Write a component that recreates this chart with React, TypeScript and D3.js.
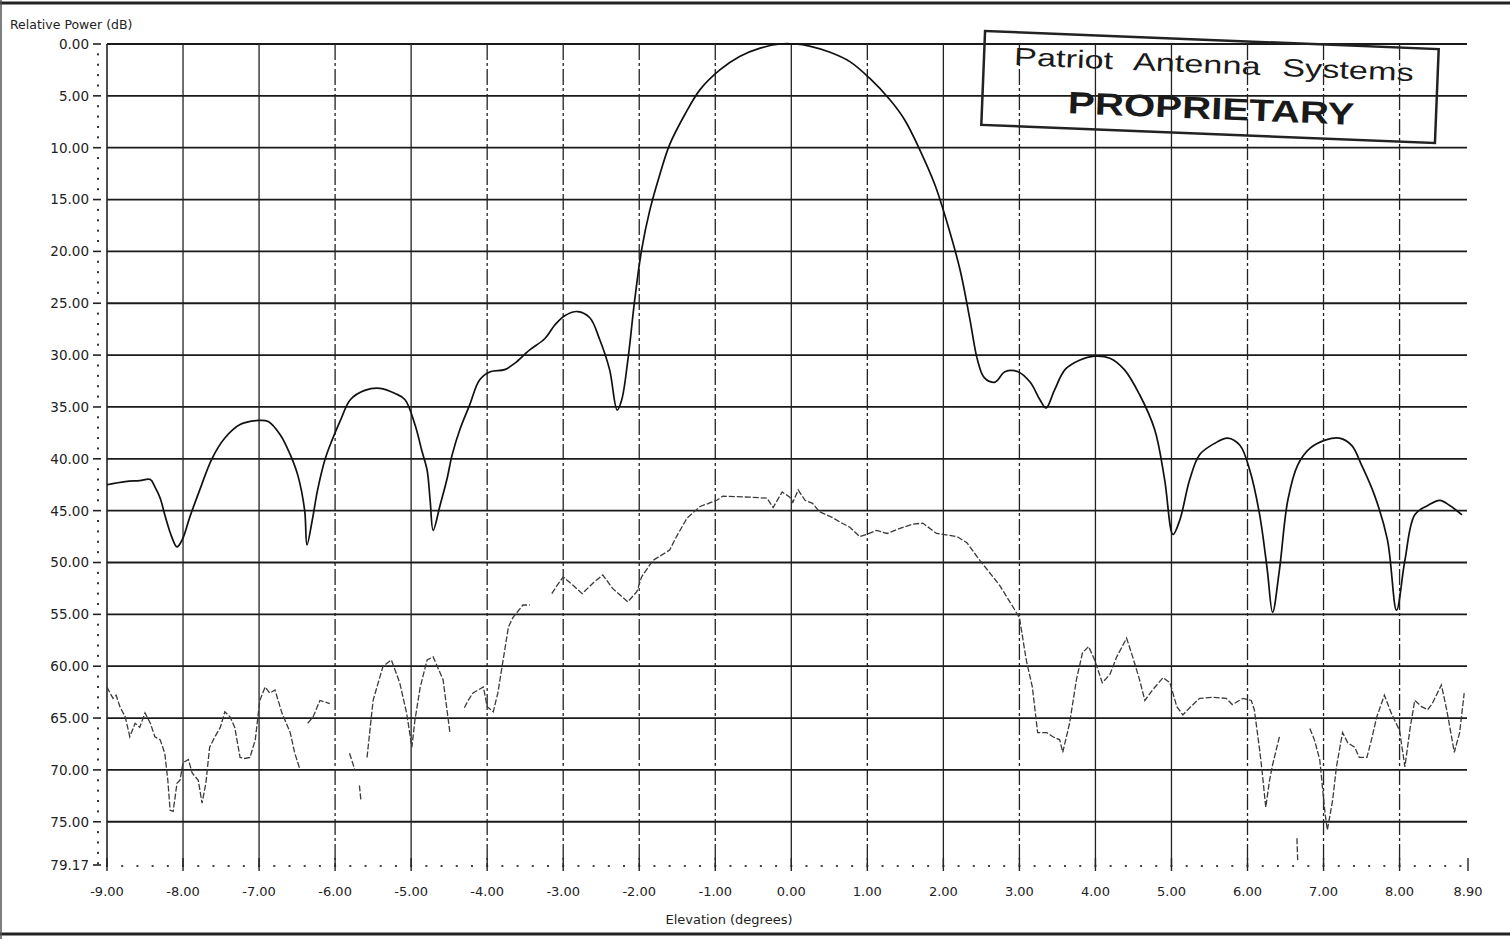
import React from "react";
import * as d3 from "d3";

// ---- Data ----
const MAIN_ELEV = [-9.0,-8.76,-8.57,-8.43,-8.37,-8.3,-8.24,-8.15,-8.08,-8.01,-7.91,-7.78,-7.62,-7.45,-7.25,-7.01,-6.88,-6.72,-6.59,-6.49,-6.4,-6.37,-6.3,-6.23,-6.13,-6.04,-5.93,-5.8,-5.61,-5.41,-5.21,-5.08,-4.95,-4.86,-4.79,-4.75,-4.71,-4.62,-4.53,-4.46,-4.36,-4.23,-4.1,-3.96,-3.77,-3.64,-3.44,-3.24,-3.11,-2.98,-2.81,-2.65,-2.52,-2.39,-2.29,-2.23,-2.15,-2.06,-1.97,-1.86,-1.73,-1.6,-1.4,-1.2,-0.94,-0.68,-0.41,-0.15,0.05,0.24,0.51,0.77,1.03,1.3,1.49,1.69,1.89,2.06,2.22,2.35,2.45,2.54,2.68,2.81,2.98,3.14,3.27,3.35,3.46,3.6,3.79,3.99,4.19,4.38,4.58,4.78,4.91,5.02,5.11,5.24,5.37,5.57,5.74,5.9,6.03,6.16,6.26,6.33,6.42,6.53,6.66,6.82,7.02,7.21,7.37,7.5,7.67,7.84,7.96,8.07,8.2,8.37,8.53,8.66,8.82];
const MAIN_DB = [42.5,42.2,42.1,42.0,42.7,43.8,45.4,47.5,48.5,47.8,45.6,43.0,40.0,38.0,36.7,36.3,36.4,37.7,39.6,41.6,45.0,48.3,45.9,43.0,40.0,38.2,36.3,34.3,33.4,33.2,33.7,34.3,36.7,39.2,41.1,44.0,46.9,44.5,42.0,39.6,37.2,34.8,32.4,31.6,31.4,30.8,29.5,28.4,27.1,26.2,25.8,26.4,28.5,31.4,35.3,34.3,30.5,24.7,19.9,16.0,12.6,9.7,6.8,4.4,2.5,1.2,0.4,0.0,0.0,0.2,0.8,1.7,3.3,5.4,7.3,10.2,13.6,17.5,21.8,26.6,30.5,32.2,32.6,31.6,31.6,32.6,34.3,35.1,33.4,31.4,30.5,30.1,30.3,31.4,33.8,37.2,42.0,47.3,45.9,42.0,39.6,38.5,38.0,38.7,41.1,45.4,50.7,54.8,50.7,44.0,40.6,39.0,38.2,38.0,38.7,40.6,43.5,47.8,54.6,49.8,45.4,44.5,44.0,44.5,45.4];

// null marks a break in the trace
const LOWER_ELEV = [-9.0,-8.96,-8.92,-8.88,-8.83,-8.76,-8.7,-8.63,-8.57,-8.5,-8.43,-8.37,-8.3,-8.24,-8.2,-8.17,-8.13,-8.08,-8.04,-8.0,-7.93,-7.88,-7.8,-7.75,-7.7,-7.65,-7.58,-7.51,-7.45,-7.38,-7.32,-7.25,-7.19,-7.12,-7.05,-6.99,-6.92,-6.86,-6.79,-6.7,-6.59,-6.53,-6.46,-6.42,-6.36,-6.29,-6.2,-6.07,-6.03,-5.98,-5.95,-5.81,-5.74,-5.72,-5.68,-5.66,-5.62,-5.58,-5.5,-5.37,-5.26,-5.15,-5.06,-4.99,-4.95,-4.88,-4.79,-4.71,-4.58,-4.49,-4.45,-4.4,-4.38,-4.3,-4.25,-4.19,-4.05,-4.0,-3.92,-3.86,-3.79,-3.72,-3.66,-3.53,-3.44,-3.4,-3.3,-3.25,-3.15,-3.08,-3.0,-2.87,-2.75,-2.61,-2.48,-2.35,-2.15,-2.03,-1.97,-1.82,-1.6,-1.51,-1.37,-1.2,-0.98,-0.9,-0.55,-0.32,-0.24,-0.12,-0.02,0.02,0.09,0.18,0.28,0.37,0.55,0.64,0.77,0.9,0.99,1.12,1.26,1.43,1.6,1.73,1.91,2.18,2.31,2.48,2.74,3.0,3.09,3.17,3.24,3.36,3.44,3.53,3.57,3.66,3.75,3.83,3.91,3.99,4.09,4.19,4.28,4.41,4.49,4.58,4.65,4.75,4.89,4.98,5.07,5.15,5.24,5.37,5.54,5.72,5.8,5.94,6.05,6.09,6.16,6.19,6.24,6.29,6.33,6.42,6.5,6.65,6.66,6.7,6.82,6.88,6.95,7.02,7.05,7.12,7.17,7.25,7.32,7.41,7.47,7.57,7.63,7.7,7.8,7.89,8.0,8.07,8.14,8.2,8.29,8.37,8.43,8.55,8.62,8.72,8.79,8.85];
const LOWER_DB = [62.0,62.6,63.1,62.8,63.9,64.9,66.8,65.5,65.9,64.5,65.5,66.8,67.1,68.4,71.0,73.9,74.0,71.3,71.0,69.3,69.0,70.3,71.0,73.2,71.3,67.8,66.8,65.9,64.4,64.9,65.9,68.8,68.9,68.8,67.1,63.3,62.0,62.6,62.3,64.5,66.4,68.4,70.0,null,65.5,64.9,63.3,63.6,null,65.9,null,68.4,70.0,null,71.5,73.0,null,68.8,63.3,60.0,59.4,61.6,64.5,67.8,65.2,62.0,59.4,59.1,61.3,66.4,null,71.9,null,64.0,63.3,62.6,62.0,63.9,64.4,62.6,59.4,56.2,55.3,54.1,54.1,null,54.1,null,53.0,52.2,51.4,52.2,53.0,52.0,51.2,52.5,53.8,52.8,51.4,49.8,48.8,47.5,45.7,44.6,44.0,43.6,43.7,43.8,44.7,43.2,43.7,44.2,43.0,44.0,44.3,45.1,45.7,46.1,46.6,47.5,47.3,46.9,47.2,46.7,46.3,46.2,47.2,47.5,48.1,49.8,52.2,55.3,59.4,62.0,66.4,66.4,66.8,67.1,68.3,65.5,61.3,58.7,58.1,59.4,61.6,60.8,59.1,57.3,59.1,61.3,63.3,62.3,61.1,61.6,63.9,64.7,64.0,63.1,63.0,63.1,63.7,63.1,63.3,64.2,68.1,70.0,73.6,71.0,69.5,66.8,null,76.6,78.7,null,66.0,67.1,69.0,74.2,75.8,72.9,69.7,66.4,67.4,67.8,68.8,68.8,67.1,64.9,62.8,64.5,66.2,69.7,65.9,63.3,63.9,64.2,63.6,61.8,64.2,68.3,66.4,62.6];

const Y_TICKS = [0, 5, 10, 15, 20, 25, 30, 35, 40, 45, 50, 55, 60, 65, 70, 75, 79.17];
const X_TICKS = [-9, -8, -7, -6, -5, -4, -3, -2, -1, 0, 1, 2, 3, 4, 5, 6, 7, 8, 8.9];
const V_GRID = [-8, -7, -6, -5, -4, -3, -2, -1, 0, 1, 2, 3, 4, 5, 6, 7, 8];
const V_GRID_DASHED = [-6, -4, -3, -2, -1, 1, 3, 6, 7, 8];
const H_GRID = [0, 5, 10, 15, 20, 25, 30, 35, 40, 45, 50, 55, 60, 65, 70, 75];

const W = 1510;
const H = 939;

const fmt = (v: number) => v.toFixed(2);

export default function App() {
  const x = d3.scaleLinear().domain([-9, 8.9]).range([107, 1468]);
  const y = d3.scaleLinear().domain([0, 79.17]).range([44, 865]);

  const mainPts = MAIN_ELEV.map((e, i) => [e, MAIN_DB[i]] as [number, number]);
  const lowPts = LOWER_ELEV.map((e, i) => [e, LOWER_DB[i]] as [number, number | null]);

  const mainLine = d3
    .line<[number, number]>()
    .x((d) => x(d[0]))
    .y((d) => y(d[1]))
    .curve(d3.curveCatmullRom.alpha(0.5));

  const lowLine = d3
    .line<[number, number | null]>()
    .defined((d) => d[1] !== null)
    .x((d) => x(d[0]))
    .y((d) => y(d[1] as number));

  const minorY = d3.range(0, 80, 1).filter((v) => v % 5 !== 0);
  const minorX = d3.range(-9, 8.95, 0.2).map((v) => Math.round(v * 100) / 100);

  const font = "'DejaVu Sans', 'Liberation Sans', Arial, sans-serif";
  const stampFont = "'Liberation Sans', Arial, sans-serif";

  return (
    <svg
      width={W}
      height={H}
      style={{ position: "absolute", left: 0, top: 0, background: "#fff" }}
      fontFamily={font}
    >
      <rect x={0} y={0} width={W} height={H} fill="#fff" />
      {/* page frame */}
      <line x1={0} x2={W} y1={3} y2={3} stroke="#222" strokeWidth={3} />
      <line x1={0} x2={W} y1={934} y2={934} stroke="#222" strokeWidth={3} />
      <line x1={1} x2={1} y1={0} y2={H} stroke="#555" strokeWidth={1.5} />

      {/* horizontal grid */}
      {H_GRID.map((v) => (
        <line key={"h" + v} x1={107} x2={1467} y1={y(v)} y2={y(v)} stroke="#1a1a1a" strokeWidth={1.8} />
      ))}
      {/* vertical grid */}
      {V_GRID.map((v) => (
        <line
          key={"v" + v}
          x1={x(v)}
          x2={x(v)}
          y1={y(0)}
          y2={y(79.17)}
          stroke="#222"
          strokeWidth={1.3}
          strokeDasharray={V_GRID_DASHED.includes(v) ? "16,3,3,3" : undefined}
        />
      ))}

      {/* left axis */}
      <line x1={107} x2={107} y1={y(0)} y2={y(79.17)} stroke="#222" strokeWidth={1.6} />
      {Y_TICKS.map((v) => (
        <g key={"yt" + v}>
          <line x1={93} x2={101} y1={y(v)} y2={y(v)} stroke="#222" strokeWidth={1.6} />
          <text x={89} y={y(v)} dy="0.36em" textAnchor="end" fontSize={13.5} fill="#222">
            {fmt(v)}
          </text>
        </g>
      ))}
      {minorY.map((v) => (
        <rect key={"my" + v} x={97} y={y(v) - 1} width={2} height={2} fill="#333" />
      ))}

      {/* bottom axis dotted with ticks */}
      {minorX.map((v) => (
        <rect key={"mx" + v} x={x(v) - 1} y={865} width={2} height={2} fill="#444" />
      ))}
      {X_TICKS.map((v) => (
        <g key={"xt" + v}>
          <line x1={x(v)} x2={x(v)} y1={858} y2={871} stroke="#222" strokeWidth={1.4} />
          <text x={x(v)} y={896} textAnchor="middle" fontSize={13} fill="#222">
            {fmt(v)}
          </text>
        </g>
      ))}

      {/* axis titles */}
      <text x={10} y={29} fontSize={12.5} fill="#222">
        Relative Power (dB)
      </text>
      <text x={729} y={924} textAnchor="middle" fontSize={13} fill="#222">
        Elevation (degrees)
      </text>

      {/* lower (faint) trace */}
      <path d={lowLine(lowPts) || ""} fill="none" stroke="#3a3a3a" strokeWidth={1.3} strokeDasharray="6,2" />
      {/* main trace */}
      <path d={mainLine(mainPts) || ""} fill="none" stroke="#111" strokeWidth={1.7} />

      {/* stamp */}
      <g transform="translate(1210,87) rotate(2.3)">
        <rect x={-227} y={-47} width={454} height={94} fill="none" stroke="#222" strokeWidth={2.5} />
        <g transform="translate(3,-14) scale(1.37,1)">
          <text
            x={0}
            y={0}
            textAnchor="middle"
            fontFamily={stampFont}
            fontSize={25}
            wordSpacing={9}
            textRendering="geometricPrecision"
            fill="#1a1a1a"
          >
            Patriot Antenna Systems
          </text>
        </g>
        <g transform="translate(2,32) scale(1.3,1)">
          <text
            x={0}
            y={0}
            textAnchor="middle"
            fontFamily={stampFont}
            fontWeight="bold"
            fontSize={31}
            textRendering="geometricPrecision"
            fill="#1a1a1a"
          >
            PROPRIETARY
          </text>
        </g>
      </g>
    </svg>
  );
}
